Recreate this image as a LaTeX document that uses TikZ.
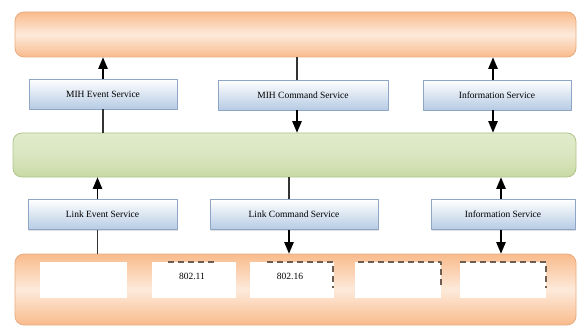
\documentclass[tikz,border=0pt]{standalone}
\usepackage{fontspec}
\setmainfont{Liberation Serif}
\usetikzlibrary{arrows,shadows}
\definecolor{orgedge}{HTML}{E7AC80}
\definecolor{orgdeep}{HTML}{F9BB8C}
\definecolor{orglite}{HTML}{FDEADB}
\definecolor{grnedge}{HTML}{B0C48C}
\definecolor{grndeep}{HTML}{C9DAA4}
\definecolor{grnlite}{HTML}{E1EBCC}
\definecolor{bluedge}{HTML}{8EA5C6}
\definecolor{bludeep}{HTML}{B6CBE4}
\definecolor{dashcol}{HTML}{6E5E52}

\begin{document}
\begin{tikzpicture}[line cap=round,line join=round,>=triangle 45,x=1pt,
y=-1pt,
bar/.style={draw=orgedge,line width=0.8pt,rounded corners=9pt,
  top color=orgdeep,bottom color=orgdeep,middle color=orglite},
midbar/.style={draw=grnedge,line width=0.8pt,rounded corners=9pt,
  top color=grnlite,bottom color=grndeep,middle color=grnlite!70!grndeep},
srv/.style={draw=bluedge,line width=0.6pt,top color=white,
  bottom color=bludeep,minimum height=30,
  drop shadow={opacity=0.25,shadow xshift=1.2pt,shadow yshift=-1.2pt},
  font=\fontsize{9.5}{11}\selectfont},
techbox/.style={fill=white,minimum height=36,inner sep=0pt},
conn/.style={line width=1.2pt,black!80,line cap=butt},
arr/.style={->,line width=1.7pt,line cap=butt},
dsh/.style={dashcol,line width=1.6pt,line cap=butt,
  dash pattern=on 6pt off 4pt}]
\useasboundingbox (0,0) rectangle (578,326);
% the three layers
\node[bar,minimum width=561,minimum height=45] (mihuser) at (295.5,34.5) {};
\node[midbar,minimum width=563,minimum height=44] (mihf) at (294.5,155) {};
\node[bar,minimum width=561,minimum height=71] (lower) at (295.5,289.5) {};
% service boxes
\node[srv,minimum width=148] (mihev) at (103,94) {MIH Event Service};
\node[srv,minimum width=170] (mihcmd) at (303,95) {MIH Command Service};
\node[srv,minimum width=148] (mihinfo) at (497,95) {Information Service};
\node[srv,minimum width=149] (linkev) at (102.5,214.5) {Link Event Service};
\node[srv,minimum width=168] (linkcmd) at (294,214.5) {Link Command Service};
\node[srv,minimum width=144] (linkinfo) at (503,214.5) {Information Service};
% upper connections
\draw[arr] (mihev.north) -- (mihev.north |- mihuser.south);
\draw[conn] (mihev.south) -- (mihev.south |- mihf.north);
\draw[conn] ([xshift=-6pt]mihcmd.north) -- ([xshift=-6pt]mihcmd.north |- mihuser.south);
\draw[arr] ([xshift=-6pt]mihcmd.south) -- ([xshift=-6pt]mihcmd.south |- mihf.north);
\draw[arr] ([xshift=-4pt]mihinfo.north) -- ([xshift=-4pt]mihinfo.north |- mihuser.south);
\draw[arr] ([xshift=-4pt]mihinfo.south) -- ([xshift=-4pt]mihinfo.south |- mihf.north);
% lower connections
\draw[arr] ([xshift=-5pt]linkev.north) -- ([xshift=-5pt]linkev.north |- mihf.south);
\draw[conn] ([xshift=-5pt]linkev.south) -- ([xshift=-5pt]linkev.south |- lower.north);
\draw[conn] ([xshift=-5pt]linkcmd.north) -- ([xshift=-5pt]linkcmd.north |- mihf.south);
\draw[arr] ([xshift=-5pt]linkcmd.south) -- ([xshift=-5pt]linkcmd.south |- lower.north);
\draw[arr] ([xshift=-2pt]linkinfo.north) -- ([xshift=-2pt]linkinfo.north |- mihf.south);
\draw[arr] ([xshift=-2pt]linkinfo.south) -- ([xshift=-2pt]linkinfo.south |- lower.north);
% link technologies
\foreach \i/\x/\w in {1/83.5/87,2/194/84,3/292/84,4/398/86,5/503/86}
\node[techbox,minimum width=\w] (tech\i) at (\x,280) {};
\node[font=\fontsize{9.5}{11}\selectfont] (lbla) at (192,276) {802.11};
\node[font=\fontsize{9.5}{11}\selectfont] (lblb) at (290,276) {802.16};
% dashed outlines
\draw[dsh] (168,262) -- (215,262);
\draw[dsh] (267,262) -- (333,262) -- (333,288);
\draw[dsh] (358,262) -- (441,262) -- (441,288);
\draw[dsh] (460,262) -- (546,262) -- (546,288);
\end{tikzpicture}
\end{document}
